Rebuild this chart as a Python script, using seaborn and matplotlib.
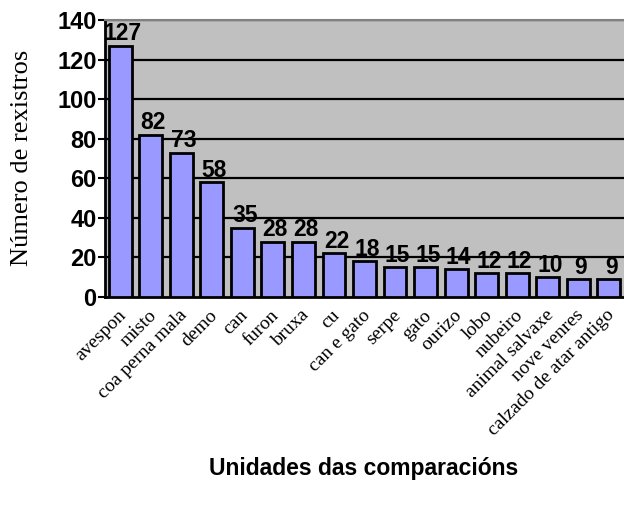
import numpy as np
import pandas as pd
import seaborn as sns
import matplotlib.pyplot as plt
import matplotlib.transforms as mtransforms

categories = ['avespon', 'misto', 'coa perna mala', 'demo', 'can', 'furon', 'bruxa',
              'cu', 'can e gato', 'serpe', 'gato', 'ourizo', 'lobo', 'nubeiro',
              'animal salvaxe', 'nove venres', 'calzado de atar antigo']
counts = [127, 82, 73, 58, 35, 28, 28, 22, 18, 15, 15, 14, 12, 12, 10, 9, 9]
yticks = [0, 20, 40, 60, 80, 100, 120, 140]

df = pd.DataFrame({'unidade': categories, 'rexistros': counts})

sns.set_style('white')
plt.rcParams['font.family'] = ['Liberation Sans', 'DejaVu Sans']
plt.rcParams['text.color'] = 'black'
plt.rcParams['xtick.color'] = 'black'
plt.rcParams['ytick.color'] = 'black'
plt.rcParams['axes.labelcolor'] = 'black'

fig = plt.figure(figsize=(6.24, 5.05), dpi=100)
ax = fig.add_axes([105 / 624, 1 - 297 / 505, 519 / 624, 277 / 505])
ax.set_facecolor('#C0C0C0')

sns.barplot(data=df, x='unidade', y='rexistros', color='#9999FF', saturation=1,
            edgecolor='black', linewidth=2, width=0.75, ax=ax, zorder=3)

ax.set_ylim(0, 140)
ax.set_xlim(-0.5, len(categories) - 0.5)
ax.set_yticks(yticks)
ax.set_yticklabels([str(t) for t in yticks], fontsize=17, fontweight='bold')
for t in yticks[1:]:
    ax.axhline(t, color='black', linewidth=1.6, zorder=1)

ax.tick_params(axis='y', direction='out', length=5, width=1.5, pad=1, left=True)
ax.tick_params(axis='x', length=0, pad=7)
ax.set_xticks(range(len(categories)))
ax.set_xticklabels(categories, rotation=45, ha='right', rotation_mode='anchor',
                   fontsize=14, family='Liberation Serif')
# nudge the rotated labels a little to the left
shift = mtransforms.ScaledTranslation(-3 / 100, 0, fig.dpi_scale_trans)
for lbl in ax.get_xticklabels():
    lbl.set_transform(lbl.get_transform() + shift)

for side in ['left', 'bottom']:
    ax.spines[side].set_color('black')
    ax.spines[side].set_linewidth(2)
ax.spines['top'].set_color('#808080')
ax.spines['top'].set_linewidth(1.5)
ax.spines['right'].set_visible(False)

for i, v in enumerate(counts):
    ax.text(i + 0.08, v + 0.3, str(v), ha='center', va='bottom', fontsize=16.5,
            fontweight='bold', zorder=5)

ax.set_xlabel('')
ax.set_ylabel('')
fig.text(22 / 624, 1 - 158 / 505, 'Número de rexistros', rotation=90, ha='center',
         va='center', fontsize=19, family='Liberation Serif')
fig.text(364 / 624, 1 - 469 / 505, 'Unidades das comparacións', ha='center', va='center',
         fontsize=16.5, fontweight='bold')

fig.savefig('out.png', dpi=100)
